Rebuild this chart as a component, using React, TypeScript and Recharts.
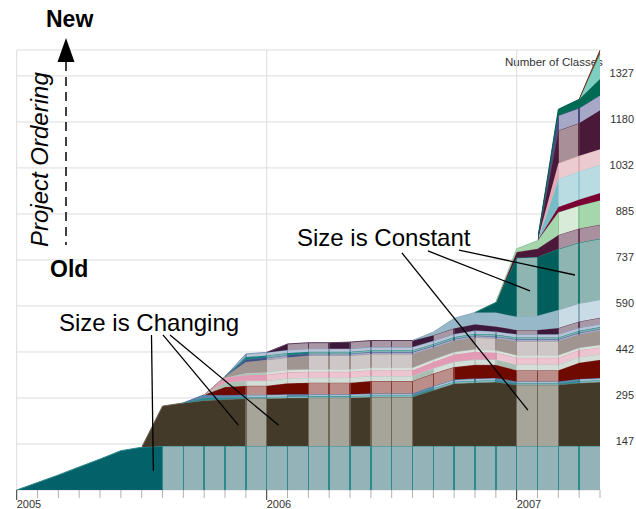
import { AreaChart, Area, XAxis, YAxis, CartesianGrid, ReferenceLine } from 'recharts'

// months since Jan 2005 (0 .. 28 = May 2007)
const months = [0, 1, 2, 3, 4, 5, 6, 7, 8, 9, 10, 11, 12, 13, 14, 15, 16, 17, 18, 19, 20, 21, 22, 23, 24, 25, 26, 27, 28]
const yearTicks = [0, 12, 24]
const yearLabels = ['2005', '2006', '2007']
const classTicks = [147.4, 294.9, 442.3, 589.8, 737.2, 884.6, 1032.1, 1179.5, 1327]
const classLabels = ['147', '295', '442', '590', '737', '885', '1032', '1180', '1327']

// number of classes per project, oldest project first
const teal = [0, 24, 48, 74, 99, 126, 137, 141, 141, 141, 141, 141, 141, 141, 141, 141, 141, 141, 141, 141, 141, 141, 141, 141, 141, 141, 141, 141, 141]
const brown = [0, 0, 0, 0, 0, 0, 0, 128, 138, 146, 149, 152, 152, 154, 155, 155, 155, 157, 157, 157, 179, 200, 203, 205, 196, 196, 196, 202, 205]
const tealThin = [0, 0, 0, 0, 0, 0, 0, 0, 0, 9, 6, 5, 5, 5, 5, 5, 5, 5, 5, 5, 6, 6, 6, 6, 5, 5, 5, 6, 6]
const blueThin = [0, 0, 0, 0, 0, 0, 0, 0, 0, 9, 8, 7, 7, 7, 6, 6, 6, 6, 6, 6, 7, 7, 7, 7, 6, 6, 6, 7, 7]
const darkRed = [0, 0, 0, 0, 0, 0, 0, 0, 0, 0, 26, 29, 29, 35, 37, 37, 37, 40, 40, 40, 40, 40, 44, 42, 36, 36, 36, 52, 58]
const grayGreen = [0, 0, 0, 0, 0, 0, 0, 0, 0, 0, 14, 16, 16, 16, 16, 16, 16, 16, 16, 16, 17, 17, 17, 17, 18, 18, 18, 18, 18]
const pink = [0, 0, 0, 0, 0, 0, 0, 0, 0, 0, 16, 18, 19, 19, 19, 19, 19, 19, 19, 19, 20, 23, 25, 22, 22, 22, 22, 22, 22]
const grayGreen2 = [0, 0, 0, 0, 0, 0, 0, 0, 0, 0, 0, 6, 8, 8, 8, 8, 8, 8, 8, 8, 8, 8, 8, 8, 8, 8, 8, 8, 8]
const gray = [0, 0, 0, 0, 0, 0, 0, 0, 0, 0, 4, 36, 40, 40, 44, 44, 44, 44, 44, 44, 38, 36, 38, 38, 45, 45, 45, 42, 45]
const blue = [0, 0, 0, 0, 0, 0, 0, 0, 0, 0, 0, 8, 7, 7, 6, 6, 6, 6, 6, 6, 6, 6, 6, 6, 6, 6, 6, 6, 6]
const teal2 = [0, 0, 0, 0, 0, 0, 0, 0, 0, 0, 0, 8, 7, 7, 6, 6, 6, 6, 6, 6, 6, 6, 6, 6, 6, 6, 6, 6, 6]
const lightBlue = [0, 0, 0, 0, 0, 0, 0, 0, 0, 0, 0, 10, 10, 10, 10, 10, 10, 10, 10, 10, 10, 10, 10, 10, 10, 10, 10, 10, 10]
const mauve = [0, 0, 0, 0, 0, 0, 0, 0, 0, 0, 0, 0, 0, 19, 19, 19, 21, 21, 21, 21, 18, 18, 20, 16, 14, 14, 20, 20, 20]
const skyBand = [0, 0, 0, 0, 0, 0, 0, 0, 0, 0, 0, 0, 0, 0, 0, 0, 0, 0, 0, 0, 10, 32, 38, 45, 42, 45, 58, 58, 58]
const darkTeal = [0, 0, 0, 0, 0, 0, 0, 0, 0, 0, 0, 0, 0, 0, 0, 0, 0, 0, 0, 0, 0, 0, 0, 32, 189, 189, 195, 195, 195]
const mauve2 = [0, 0, 0, 0, 0, 0, 0, 0, 0, 0, 0, 0, 0, 0, 0, 0, 0, 0, 0, 0, 0, 0, 0, 0, 19, 26, 45, 45, 45]
const lightGreen = [0, 0, 0, 0, 0, 0, 0, 0, 0, 0, 0, 0, 0, 0, 0, 0, 0, 0, 0, 0, 0, 0, 0, 0, 10, 26, 73, 73, 78]
const crimson = [0, 0, 0, 0, 0, 0, 0, 0, 0, 0, 0, 0, 0, 0, 0, 0, 0, 0, 0, 0, 0, 0, 0, 0, 0, 0, 17, 20, 24]
const cyan = [0, 0, 0, 0, 0, 0, 0, 0, 0, 0, 0, 0, 0, 0, 0, 0, 0, 0, 0, 0, 0, 0, 0, 0, 0, 0, 90, 90, 90]
const pink2 = [0, 0, 0, 0, 0, 0, 0, 0, 0, 0, 0, 0, 0, 0, 0, 0, 0, 0, 0, 0, 0, 0, 0, 0, 0, 0, 50, 50, 50]
const mauve3 = [0, 0, 0, 0, 0, 0, 0, 0, 0, 0, 0, 0, 0, 0, 0, 0, 0, 0, 0, 0, 0, 0, 0, 0, 0, 0, 105, 105, 125]
const lavender = [0, 0, 0, 0, 0, 0, 0, 0, 0, 0, 0, 0, 0, 0, 0, 0, 0, 0, 0, 0, 0, 0, 0, 0, 0, 0, 48, 48, 48]
const darkTeal2 = [0, 0, 0, 0, 0, 0, 0, 0, 0, 0, 0, 0, 0, 0, 0, 0, 0, 0, 0, 0, 0, 0, 0, 0, 0, 0, 20, 28, 52]
const mint = [0, 0, 0, 0, 0, 0, 0, 0, 0, 0, 0, 0, 0, 0, 0, 0, 0, 0, 0, 0, 0, 0, 0, 0, 0, 0, 0, 0, 80]
const brownTop = [0, 0, 0, 0, 0, 0, 0, 0, 0, 0, 0, 0, 0, 0, 0, 0, 0, 0, 0, 0, 0, 0, 0, 0, 0, 0, 0, 0, 12]

// annotation leader lines, in chart units (month, classes)
const changingLeaders = [
  [{ x: 6.47, y: 497 }, { x: 6.56, y: 62 }],
  [{ x: 7.02, y: 497 }, { x: 10.64, y: 208 }],
  [{ x: 7.36, y: 497 }, { x: 12.56, y: 208 }],
]
const constantLeaders = [
  [{ x: 18.49, y: 760 }, { x: 24.54, y: 256 }],
  [{ x: 19.74, y: 766 }, { x: 24.64, y: 638 }],
  [{ x: 21.23, y: 769 }, { x: 26.8, y: 689 }],
]

// dark = size changing, light = size constant
const layers = [
  { key: 'teal', values: teal, dark: '#03616a', light: '#93b3b8', edge: '#2b8a8c' },
  { key: 'brown', values: brown, dark: '#433a2a', light: '#a7a499', edge: '#6e6657' },
  { key: 'tealThin', values: tealThin, dark: '#2f8a8e', light: '#7eb7b6', edge: '#2a8a8c' },
  { key: 'blueThin', values: blueThin, dark: '#5e86ae', light: '#a9c0d3', edge: '#4a6e98' },
  { key: 'darkRed', values: darkRed, dark: '#6e0a00', light: '#bb8e8a', edge: '#8a3a34' },
  { key: 'grayGreen', values: grayGreen, dark: '#a9bfb3', light: '#d4ded8', edge: '#b8c6be' },
  { key: 'pink', values: pink, dark: '#e39bb5', light: '#edc5d1', edge: '#d89aae' },
  { key: 'grayGreen2', values: grayGreen2, dark: '#b0c4b8', light: '#d9e2dc', edge: '#bcc8c0' },
  { key: 'gray', values: gray, dark: '#a09591', light: '#cec7c7', edge: '#9c908e' },
  { key: 'blue', values: blue, dark: '#3f5088', light: '#a3a9c6', edge: '#4a5790' },
  { key: 'teal2', values: teal2, dark: '#187f7f', light: '#7db5b2', edge: '#24807f' },
  { key: 'lightBlue', values: lightBlue, dark: '#8ea9c7', light: '#b7c3d6', edge: '#7e95b8' },
  { key: 'mauve', values: mauve, dark: '#3d1a3b', light: '#a898a6', edge: '#5b3a58' },
  { key: 'skyBand', values: skyBand, dark: '#97b8c9', light: '#c9dce6', edge: '#8aaabc' },
  { key: 'darkTeal', values: darkTeal, dark: '#005f5c', light: '#8fb5b3', edge: '#1a7a74' },
  { key: 'mauve2', values: mauve2, dark: '#4a1838', light: '#a8909e', edge: '#6a3a58' },
  { key: 'lightGreen', values: lightGreen, dark: '#a6d6ac', light: '#d8ebd8', edge: '#8fc79a' },
  { key: 'crimson', values: crimson, dark: '#7a0033', light: '#c08c9c', edge: '#8a2048' },
  { key: 'cyan', values: cyan, dark: '#78bcc8', light: '#b8dce2', edge: '#98c8d0' },
  { key: 'pink2', values: pink2, dark: '#e6a8b4', light: '#eccbd0', edge: '#ddb0b8' },
  { key: 'mauve3', values: mauve3, dark: '#4a1838', light: '#a88f98', edge: '#5e3048' },
  { key: 'lavender', values: lavender, dark: '#4a4a82', light: '#a7a8c8', edge: '#4a4a82' },
  { key: 'darkTeal2', values: darkTeal2, dark: '#006b55', light: '#7cb5a6', edge: '#005e4c' },
  { key: 'mint', values: mint, dark: '#7ecfc2', light: '#b5e3da', edge: '#6cc2b4' },
  { key: 'brownTop', values: brownTop, dark: '#7a4428', light: '#c49a80', edge: '#6a3820' },
]

const data = months.map((m, i) => {
  const row: Record<string, number> = { m }
  layers.forEach((l) => (row[l.key] = l.values[i]))
  return row
})

// fill: one cell per month, light where the value did not change, thin dividers around light cells
function fillStops(v: number[], dark: string, light: string, edge: string) {
  const n = v.length - 1
  const h = 0.0013
  const isLight = (j: number) => v[j] > 0 && v[j] === v[j + 1]
  const divider = (k: number) => k > 0 && k < n && v[k] > 0 && (isLight(k - 1) || isLight(k))
  const out: [number, string][] = []
  for (let j = 0; j < n; j++) {
    const c = isLight(j) ? light : dark
    const a = j / n + (divider(j) ? h : 0)
    const b = (j + 1) / n - (divider(j + 1) ? h : 0)
    out.push([a, c], [b, c])
    if (divider(j + 1)) out.push([b, edge], [(j + 1) / n + h, edge])
  }
  return out
}

function strokeStops(v: number[]) {
  const n = v.length - 1
  const out: [number, number][] = []
  for (let j = 0; j < n; j++) {
    const op = v[j] > 0 || v[j + 1] > 0 ? 1 : 0
    out.push([j / n, op], [(j + 1) / n, op])
  }
  return out
}

const font = '"Liberation Sans", Arial, Helvetica, sans-serif'

const MonthTick = (props: any) => {
  const { x, y, payload } = props
  const idx = yearTicks.indexOf(payload.value)
  const isYear = idx >= 0
  return (
    <g>
      <line x1={x} x2={x} y1={y} y2={y + (isYear ? 10 : 8)} stroke={isYear ? '#333' : '#b0b0b0'} strokeWidth={1} />
      {isYear && (
        <text x={x} y={y + 18} fontSize={11} fill="#333" textAnchor="start" fontFamily={font}>
          {yearLabels[idx]}
        </text>
      )}
    </g>
  )
}

const ClassTick = (props: any) => {
  const { x, y, payload } = props
  const idx = classTicks.indexOf(payload.value)
  return (
    <text x={x + 34} y={y + 1} fontSize={11} fill="#333" textAnchor="end" fontFamily={font}>
      {classLabels[idx]}
    </text>
  )
}

export default function App() {
  return (
    <div style={{ position: 'absolute', left: 0, top: 0, width: 636, height: 509, background: '#fff', fontFamily: font }}>
      <div style={{ position: 'absolute', left: 505, top: 56, fontSize: 11.5, color: '#333', whiteSpace: 'nowrap' }}>
        Number of Classes
      </div>
      <div style={{ position: 'absolute', left: 0, top: 0 }}>
        <AreaChart width={636} height={509} data={data} margin={{ top: 50, right: 0, bottom: 0, left: 16.7 }}>
          <defs>
            {layers.map((l) => (
              <linearGradient key={'f' + l.key} id={'f-' + l.key} x1="0" y1="0" x2="1" y2="0">
                {fillStops(l.values, l.dark, l.light, l.edge).map(([o, c], i) => (
                  <stop key={i} offset={o} stopColor={c} />
                ))}
              </linearGradient>
            ))}
            {layers.map((l) => (
              <linearGradient key={'s' + l.key} id={'s-' + l.key} x1="0" y1="0" x2="1" y2="0">
                {strokeStops(l.values).map(([o, op], i) => (
                  <stop key={i} offset={o} stopColor={l.edge} stopOpacity={op} />
                ))}
              </linearGradient>
            ))}
          </defs>
          <CartesianGrid stroke="#dcdcdc" verticalValues={yearTicks} />
          <XAxis
            dataKey="m"
            type="number"
            domain={[0, 28]}
            ticks={months}
            interval={0}
            height={19}
            tickSize={0}
            tickMargin={0}
            axisLine={false}
            tickLine={false}
            tick={<MonthTick />}
          />
          <YAxis
            orientation="right"
            type="number"
            domain={[0, 1410]}
            ticks={classTicks}
            width={36}
            tickSize={0}
            tickMargin={0}
            axisLine={false}
            tickLine={false}
            tick={<ClassTick />}
          />
          {layers.map((l) => (
            <Area
              key={l.key}
              type="linear"
              dataKey={l.key}
              stackId="1"
              fill={`url(#f-${l.key})`}
              fillOpacity={1}
              stroke={`url(#s-${l.key})`}
              strokeWidth={1}
              dot={false}
              activeDot={false}
              isAnimationActive={false}
            />
          ))}
          {[...changingLeaders, ...constantLeaders].map((seg, i) => (
            <ReferenceLine key={i} segment={seg} stroke="#000" strokeWidth={1.3} ifOverflow="visible" />
          ))}
        </AreaChart>
      </div>
      <svg width={636} height={509} style={{ position: 'absolute', left: 0, top: 0, pointerEvents: 'none' }}>
        <text x={46} y={27} fontSize={23} fontWeight="bold" fontFamily={font}>New</text>
        <polygon points="66,38 57.5,62 74.5,62" fill="#000" />
        <line x1={66} y1={62} x2={66} y2={245} stroke="#000" strokeWidth={1.5} strokeDasharray="9 6" />
        <text transform="translate(48,247) rotate(-90)" fontSize={24} fontStyle="italic" fontFamily={font}>
          Project Ordering
        </text>
        <text x={50} y={277} fontSize={23} fontWeight="bold" fontFamily={font}>Old</text>
        <text x={59} y={331} fontSize={24} fontFamily={font}>Size is Changing</text>
        <text x={297} y={246} fontSize={24} fontFamily={font}>Size is Constant</text>
      </svg>
    </div>
  )
}
